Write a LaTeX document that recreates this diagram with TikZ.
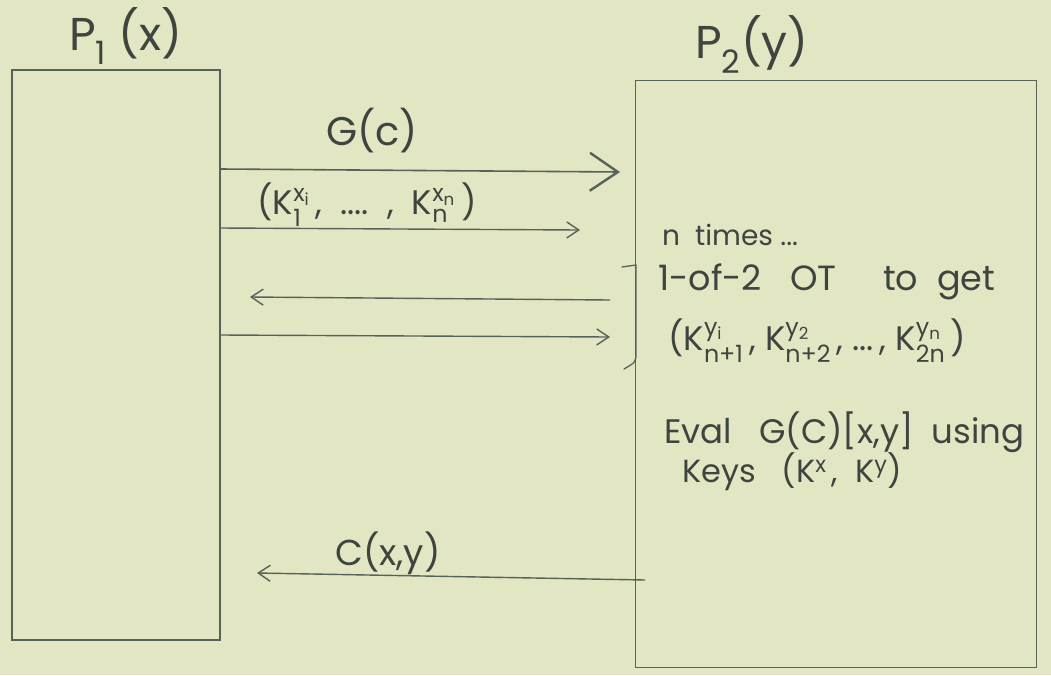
\documentclass[tikz,border=0pt]{standalone}
\usepackage{fontspec}
\usepackage{amsmath}
\setmainfont{Poppins}
\usetikzlibrary{arrows.meta}
\definecolor{bgc}{HTML}{E3E6C2}
\definecolor{ink}{HTML}{56625A}
\definecolor{txt}{HTML}{3E443F}
\newcommand\fs[1]{\fontsize{#1}{#1}\selectfont}
\newcommand\Kss[2]{K$^{\text{#1}}_{\text{#2}}$}
\tikzset{
  party/.style={draw=ink, line width=1.1pt, minimum width=#1, inner sep=0pt},
  msg/.style={draw=ink, line width=1.4pt, -{Straight Barb[length=12pt,width=16pt,line width=1.4pt]}},
  bigmsg/.style={draw=ink, line width=1.6pt, -{Straight Barb[length=28pt,width=38pt,line width=2.4pt]}},
  lbl/.style={text=txt, inner sep=0pt, anchor=base},
  note/.style={text=txt, inner sep=0pt, anchor=base west, align=left}
}
\begin{document}
\begin{tikzpicture}[x=1pt,y=-1pt]
\fill[bgc] (0,0) rectangle (1051,675);
\useasboundingbox (0,0) rectangle (1051,675);

% parties
\node[party=208pt, minimum height=570pt] (p1) at (116,355) {};
\node[party=401pt, minimum height=587pt] (p2) at (836,374) {};
\node[lbl, font=\fs{46}] (p1l) at (126,50) {P\textsubscript{1} (x)};
\node[lbl, font=\fs{46}] (p2l) at (752,58) {P\textsubscript{2}(y)};

% message end points
\coordinate (e1) at (620,172);
\coordinate (e2) at (580,230);
\coordinate (s3) at (610,300);
\coordinate (e3) at (250,297);
\coordinate (e4) at (610,337);
\coordinate (s5) at (645,580);
\coordinate (e5) at (257,573);

\draw[bigmsg] (p1.east |- 0,169) -- (e1);
\draw[msg] (p1.east |- 0,228) -- (e2);
\draw[msg] (s3) -- (e3);
\draw[msg] (p1.east |- 0,335) -- (e4);
\draw[msg] (s5) -- (e5);

% message labels
\node[lbl, font=\fs{40}] (gc) at (372,145) {G(c)};
\node[lbl, font=\fs{34}] (kx) at (367,214) {(\Kss{x\textsubscript{i}}{1}\,,\ \ ....\ \ ,\ \ \Kss{x\textsubscript{n}}{n}\,)};
\node[lbl, font=\fs{36}] (cxy) at (388,565) {C(x,y)};

% bracket
\draw[ink, line width=1.3pt, line cap=round] (622,267) -- (636,265) -- (636,352) .. controls (636,362) .. (624,369);

% notes in P2
\node[note, font=\fs{28}] (n1) at (662,245) {n\ \ times ...};
\node[note, font=\fs{35}] (n2) at (658,290) {1-of-2\ \ \ OT\ \ \ \ \ to\ \ get};
\node[note, font=\fs{34}] (n3) at (668,350) {(\Kss{y\textsubscript{i}}{n+1}\,,\ \Kss{y\textsubscript{2}}{n+2}\,,\ ...\,,\ \Kss{y\textsubscript{n}}{2n}\,)};
\node[note, font=\fs{34}] (n4) at (664,443) {Eval\ \ \ G(C)[x,y]\ \ using};
\node[note, font=\fs{32}] (n5) at (682,482) {Keys\ \ \ (K$^{\text{x}}$\,,\ \ K$^{\text{y}}$)};
\end{tikzpicture}
\end{document}
